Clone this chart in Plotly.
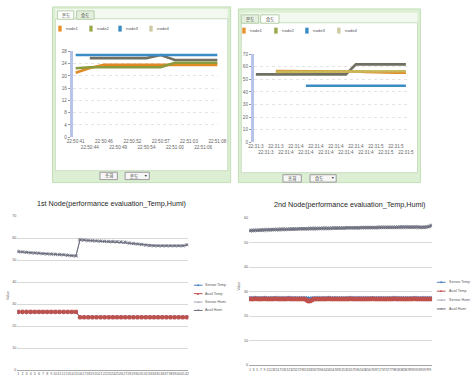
import plotly.graph_objects as go

W, H = 473, 382

# ---------------- data ----------------
node_names = ["node1", "node2", "node3", "node4"]
node_colors = ["#e8902a", "#9aa84a", "#3a8cc4", "#cfcaa4"]
node_line_colors = ["#e08a26", "#8c9a3e", "#3a8cc4", "#6f6f62"]

tab_labels = ["온도", "습도"]
button_label = "조회"

tl_times = ["22:50:41", "22:50:44", "22:50:46", "22:50:49", "22:50:52", "22:50:54",
            "22:50:57", "22:51:00", "22:51:03", "22:51:06", "22:51:08"]
tl_node1 = [21.0, 22.6, 23.6, 23.6, 23.6, 23.6, 23.6, 23.6, 23.6, 23.6, 23.6]
tl_node2 = [22.5, 22.8, 22.8, 22.8, 22.8, 22.8, 22.8, 24.3, 24.3, 24.3, 24.3]
tl_node3 = [26.8, 26.8, 26.8, 26.8, 26.8, 26.8, 26.8, 26.8, 26.8, 26.8, 26.8]
tl_node4 = [None, 25.8, 25.8, 25.8, 25.8, 25.8, 26.8, 25.2, 25.2, 25.2, 25.2]
tl_yticks = [0, 4, 8, 12, 16, 20, 24, 28]

tr_times = ["22:31:30", "22:31:33", "22:31:36", "22:31:40", "22:31:42", "22:31:43",
            "22:31:44", "22:31:45", "22:31:46", "22:31:47", "22:31:48", "22:31:49",
            "22:31:51", "22:31:53", "22:31:55", "22:31:57"]
tr_node1 = [None, None, 56.6, 56.6, 56.3, 56.3, 56.3, 56.3, 56.3, 56.3, 56.3, 56.0, 55.6, 55.4, 55.4, 55.4]
tr_node2 = [None, None, 56.0, 56.0, 56.0, 56.0, 56.0, 56.0, 56.0, 56.0, 56.2, 56.4, 56.4, 56.5, 56.5, 56.5]
tr_node3 = [None, None, None, None, None, 45.0, 45.0, 45.0, 45.0, 45.0, 45.0, 45.0, 45.0, 45.0, 45.0, 45.0]
tr_node4 = [54.0, 54.0, 54.0, 54.0, 54.0, 54.0, 54.0, 54.0, 54.0, 54.0, 62.0, 62.0, 62.0, 62.0, 62.0, 62.0]
tr_yticks = [0, 10, 20, 30, 40, 50, 60, 70]

series_names = ["Sensor Temp", "Avail Temp", "Sensor Humi", "Avail Humi"]
series_colors = ["#4f81bd", "#c0504d", "#a3a9b4", "#6c6c7c"]
series_symbols = ["diamond", "square", "triangle-up", "x-thin-open"]

bl_title = "1st Node(performance evaluation_Temp,Humi)"
bl_labels = [str(i) for i in range(1, 43)]
bl_sensor_temp = [26.4, 26.4, 26.4, 26.4, 26.4, 26.4, 26.4, 26.4, 26.4, 26.4, 26.4, 26.4, 26.4, 26.4, 26.4,
                  24.1, 24.1, 24.1, 24.1, 24.1, 24.1, 24.1, 24.1, 24.1, 24.1, 24.1, 24.1, 24.1, 24.1, 24.1,
                  24.1, 24.1, 24.1, 24.1, 24.1, 24.1, 24.1, 24.1, 24.1, 24.1, 24.1, 24.1]
bl_avail_temp = [26.5, 26.5, 26.5, 26.5, 26.5, 26.5, 26.5, 26.5, 26.5, 26.5, 26.5, 26.5, 26.5, 26.5, 26.5,
                 24.0, 24.0, 24.0, 24.0, 24.0, 24.0, 24.0, 24.0, 24.0, 24.0, 24.0, 24.0, 24.0, 24.0, 24.0,
                 24.0, 24.0, 24.0, 24.0, 24.0, 24.0, 24.0, 24.0, 24.0, 24.0, 24.0, 24.0]
bl_sensor_humi = [54.0, 53.8, 53.6, 53.4, 53.3, 53.2, 53.0, 52.9, 52.8, 52.7, 52.6, 52.5, 52.3, 52.1, 52.0,
                  59.4, 59.2, 59.0, 58.9, 58.8, 58.7, 58.6, 58.5, 58.5, 58.4, 58.3, 58.2, 57.8, 57.6, 57.4,
                  57.2, 56.9, 56.7, 56.6, 56.6, 56.6, 56.6, 56.6, 56.6, 56.6, 56.6, 57.0]
bl_avail_humi = [53.8, 53.7, 53.5, 53.3, 53.2, 53.1, 52.9, 52.8, 52.7, 52.6, 52.5, 52.4, 52.2, 52.0, 51.9,
                 59.2, 59.1, 58.9, 58.8, 58.7, 58.6, 58.5, 58.4, 58.4, 58.3, 58.2, 58.1, 57.7, 57.5, 57.3,
                 57.1, 56.8, 56.6, 56.5, 56.5, 56.5, 56.5, 56.5, 56.5, 56.5, 56.5, 56.9]
bl_yticks = [0, 10, 20, 30, 40, 50, 60, 70]

br_title = "2nd Node(performance evaluation_Temp,Humi)"
br_labels = [str(i) for i in range(1, 101)]
br_sensor_temp = [27.2, 27.2, 27.2, 27.3, 27.2, 27.2, 27.2, 27.2, 27.3, 27.2,
                  27.2, 27.2, 27.2, 27.2, 27.3, 27.2, 27.2, 27.2, 27.2, 27.2,
                  27.2, 27.3, 27.2, 27.2, 27.2, 27.2, 27.2, 27.2, 27.2, 27.2,
                  27.2, 27.2, 27.1, 27.1, 27.2, 27.2, 27.2, 27.2, 27.2, 27.2,
                  27.2, 27.2, 27.2, 27.3, 27.2, 27.2, 27.2, 27.2, 27.2, 27.2,
                  27.2, 27.2, 27.2, 27.2, 27.2, 27.3, 27.2, 27.2, 27.2, 27.2,
                  27.2, 27.2, 27.2, 27.2, 27.2, 27.2, 27.2, 27.3, 27.2, 27.2,
                  27.2, 27.2, 27.2, 27.2, 27.2, 27.2, 27.2, 27.2, 27.2, 27.3,
                  27.2, 27.2, 27.2, 27.2, 27.2, 27.2, 27.2, 27.2, 27.2, 27.2,
                  27.3, 27.2, 27.2, 27.2, 27.2, 27.2, 27.2, 27.2, 27.2, 27.2]
br_avail_temp = [27.0, 27.0, 27.0, 27.1, 27.0, 27.0, 27.0, 27.0, 27.1, 27.0,
                 27.0, 27.0, 27.0, 27.0, 27.1, 27.0, 27.0, 27.0, 27.0, 27.0,
                 27.0, 27.1, 27.0, 27.0, 27.0, 27.0, 27.0, 27.0, 27.0, 27.0,
                 27.0, 26.5, 26.1, 26.2, 26.6, 27.0, 27.0, 27.0, 27.0, 27.0,
                 27.0, 27.0, 27.0, 27.1, 27.0, 27.0, 27.0, 27.0, 27.0, 27.0,
                 27.0, 27.0, 27.0, 27.0, 27.0, 27.1, 27.0, 27.0, 27.0, 27.0,
                 27.0, 27.0, 27.0, 27.0, 27.0, 27.0, 27.0, 27.1, 27.0, 27.0,
                 27.0, 27.0, 27.0, 27.0, 27.0, 27.0, 27.0, 27.0, 27.0, 27.1,
                 27.0, 27.0, 27.0, 27.0, 27.0, 27.0, 27.0, 27.0, 27.0, 27.0,
                 27.1, 27.0, 27.0, 27.0, 27.0, 27.0, 27.0, 27.0, 27.0, 27.0]
br_sensor_humi = [55.0, 55.0, 55.1, 55.1, 55.1, 55.2, 55.2, 55.2, 55.3, 55.3,
                  55.3, 55.3, 55.4, 55.4, 55.4, 55.4, 55.5, 55.5, 55.5, 55.5,
                  55.5, 55.6, 55.6, 55.6, 55.6, 55.6, 55.7, 55.7, 55.7, 55.7,
                  55.7, 55.7, 55.8, 55.8, 55.8, 55.8, 55.8, 55.8, 55.9, 55.9,
                  55.9, 55.9, 55.9, 55.9, 55.9, 56.0, 56.0, 56.0, 56.0, 56.0,
                  56.0, 56.0, 56.0, 56.1, 56.1, 56.1, 56.1, 56.1, 56.1, 56.1,
                  56.1, 56.2, 56.2, 56.2, 56.2, 56.2, 56.2, 56.2, 56.2, 56.2,
                  56.3, 56.3, 56.3, 56.3, 56.3, 56.3, 56.3, 56.3, 56.3, 56.3,
                  56.3, 56.4, 56.4, 56.4, 56.4, 56.4, 56.4, 56.4, 56.4, 56.4,
                  56.4, 56.4, 56.4, 56.3, 56.3, 56.3, 56.4, 56.5, 56.7, 57.0]
br_avail_humi = [54.8, 54.9, 54.9, 55.0, 55.0, 55.0, 55.1, 55.1, 55.1, 55.2,
                 55.2, 55.2, 55.2, 55.3, 55.3, 55.3, 55.3, 55.4, 55.4, 55.4,
                 55.4, 55.4, 55.5, 55.5, 55.5, 55.5, 55.5, 55.6, 55.6, 55.6,
                 55.6, 55.6, 55.6, 55.7, 55.7, 55.7, 55.7, 55.7, 55.7, 55.8,
                 55.8, 55.8, 55.8, 55.8, 55.8, 55.9, 55.9, 55.9, 55.9, 55.9,
                 55.9, 55.9, 56.0, 56.0, 56.0, 56.0, 56.0, 56.0, 56.0, 56.0,
                 56.0, 56.1, 56.1, 56.1, 56.1, 56.1, 56.1, 56.1, 56.1, 56.1,
                 56.1, 56.2, 56.2, 56.2, 56.2, 56.2, 56.2, 56.2, 56.2, 56.2,
                 56.2, 56.2, 56.3, 56.3, 56.3, 56.3, 56.3, 56.3, 56.3, 56.3,
                 56.3, 56.3, 56.3, 56.2, 56.2, 56.2, 56.3, 56.4, 56.6, 56.9]
br_yticks = [0, 10, 20, 30, 40, 50, 60]

# ---------------- helpers ----------------
FONT = "Liberation Sans, Arial, sans-serif"
KFONT = "Noto Sans CJK KR, sans-serif"


def px(x):
    return x / W


def py(y):
    return 1 - y / H


shapes = []
annotations = []


def rect(x0, y0, x1, y1, fill, line=None, lw=1):
    shapes.append(dict(type="rect", xref="paper", yref="paper", layer="below",
                       x0=px(x0), x1=px(x1), y0=py(y1), y1=py(y0),
                       fillcolor=fill, line=dict(color=line or fill, width=lw if line else 0)))


def seg(x0, y0, x1, y1, color, lw=1):
    shapes.append(dict(type="line", xref="paper", yref="paper", layer="above",
                       x0=px(x0), x1=px(x1), y0=py(y0), y1=py(y1),
                       line=dict(color=color, width=lw)))


def text(x, y, s, size=5, color="#444", xanchor="left", family=FONT, angle=0):
    annotations.append(dict(xref="paper", yref="paper", x=px(x), y=py(y), text=s,
                            showarrow=False, font=dict(size=size, color=color, family=family),
                            xanchor=xanchor, yanchor="middle", textangle=angle, borderpad=0))


fig = go.Figure()

# ---------------- top panels decoration ----------------
def top_panel(x0, y0, x1, y1, inner_top, inner_bottom, tab_y0, tab_x, active, btn_x, btn_y0):
    rect(x0, y0, x1, y1, "#dcefd4", "#c2dfb6")
    rect(x0 + 3, tab_y0 - 2, x1 - 3, inner_top, "#f3f9f0")
    rect(x0 + 3, inner_top, x1 - 3, inner_bottom, "white", "#c9dec0")
    for i, lab in enumerate(tab_labels):
        tx0, tx1 = tab_x[i]
        rect(tx0, tab_y0, tx1, inner_top + 0.5, "white" if i == active else "#e4efde", "#b4cfa8")
        text((tx0 + tx1) / 2, (tab_y0 + inner_top) / 2, lab, 4.5, "#333", "center", KFONT)
    (b0, b1), (c0, c1) = btn_x
    rect(b0, btn_y0, b1, btn_y0 + 7.5, "#f6f6f6", "#9a9a9a")
    text((b0 + b1) / 2, btn_y0 + 3.8, button_label, 4.5, "#333", "center", KFONT)
    rect(c0, btn_y0, c1, btn_y0 + 7.5, "#f6f6f6", "#9a9a9a")
    text(c0 + 4, btn_y0 + 3.8, tab_labels[active], 4.5, "#333", "left", KFONT)
    text(c1 - 4, btn_y0 + 3.8, "▼", 3.5, "#333", "center")


top_panel(48, 5, 232, 183, 17, 171, 9, [(53, 70), (73, 91)], 0, [(97, 115), (123, 148)], 172.5)
top_panel(240, 7, 428, 183, 21, 173, 13, [(243, 261), (263, 282)], 1, [(286, 305), (314, 341)], 175)

# top legends
for i, name in enumerate(node_names):
    lx = [54, 86, 116, 148][i]
    rect(lx, 24, lx + 3.5, 30, node_colors[i])
    text(lx + 7, 27, name, 4.3, "#555")
    lx2 = [244, 277, 309, 342][i]
    rect(lx2, 26, lx2 + 3.5, 32, node_colors[i])
    text(lx2 + 7, 29, name, 4.3, "#555")

# ---------------- traces ----------------
tl_series = [tl_node1, tl_node2, tl_node3, tl_node4]
tr_series = [tr_node1, tr_node2, tr_node3, tr_node4]
draw_order = [3, 2, 0, 1]
for k in draw_order:
    fig.add_trace(go.Scatter(x=tl_times, y=tl_series[k], mode="lines", name=node_names[k],
                             line=dict(color=node_line_colors[k], width=2.6),
                             xaxis="x", yaxis="y", showlegend=False))
for k in [3, 2, 0, 1]:
    fig.add_trace(go.Scatter(x=tr_times, y=tr_series[k], mode="lines", name=node_names[k],
                             line=dict(color=node_line_colors[k] if k != 1 else "#c9b85a", width=2.6),
                             xaxis="x2", yaxis="y2", showlegend=False))

bl_series = [bl_sensor_temp, bl_avail_temp, bl_sensor_humi, bl_avail_humi]
br_series = [br_sensor_temp, br_avail_temp, br_sensor_humi, br_avail_humi]
for k in range(4):
    fig.add_trace(go.Scatter(x=bl_labels, y=bl_series[k], mode="lines+markers", name=series_names[k],
                             line=dict(color=series_colors[k], width=1),
                             marker=dict(symbol=series_symbols[k], size=3.2, color=series_colors[k],
                                         line=dict(color=series_colors[k], width=0.8)),
                             xaxis="x3", yaxis="y3", showlegend=False))
for k in range(4):
    fig.add_trace(go.Scatter(x=br_labels, y=br_series[k], mode="lines+markers", name=series_names[k],
                             line=dict(color=series_colors[k], width=1),
                             marker=dict(symbol=series_symbols[k], size=3.4, color=series_colors[k],
                                         line=dict(color=series_colors[k], width=0.8)),
                             xaxis="x4", yaxis="y4", showlegend=False))

# bottom legends (drawn manually, compact like Excel)
legend_marks = ["◆", "■", "▲", "✕"]
for i, name in enumerate(series_names):
    ly = [287, 295.5, 304, 312.5][i]
    seg(194, ly, 203, ly, series_colors[i], 1)
    text(198.5, ly, legend_marks[i], 3.2, series_colors[i], "center")
    text(205, ly, name, 3.6, "#595959")
    ly2 = [284, 293, 302, 311][i]
    seg(445, ly2, 454, ly2, series_colors[i], 1)
    text(449.5, ly2, legend_marks[i], 3.2, series_colors[i], "center")
    text(456, ly2, name, 3.6, "#595959")

# titles
text(109, 204, bl_title, 7.2, "#262626", "center", "Liberation Sans Narrow, Liberation Sans, Arial")
text(355, 205, br_title, 7.2, "#262626", "center", "Liberation Sans Narrow, Liberation Sans, Arial")
text(2, 297, "Value", 3.6, "#595959", "center", angle=-90)
text(241, 288, "Value", 3.6, "#595959", "center", angle=-90)


def alt_rows(labels, shown):
    return [t if i % 2 == 0 else "<br>" + t for i, t in enumerate(shown)]


top_tick_font = dict(size=4.6, color="#666", family=FONT)
top_y_common = dict(showgrid=True, gridcolor="#e4e4e4", griddash="dot", gridwidth=1,
                    zeroline=False, showline=True, linecolor="#b7c3e8", linewidth=3,
                    ticks="outside", ticklen=2, tickcolor="#999", tickfont=top_tick_font)
top_x_common = dict(type="category", showgrid=False, zeroline=False, showline=False,
                    ticks="", tickfont=top_tick_font, tickangle=0, tickmode="array")

bot_tick_font = dict(size=3.6, color="#595959", family=FONT)
bot_y_common = dict(showgrid=True, gridcolor="#d9d9d9", gridwidth=1, zeroline=False,
                    showline=False, ticks="", tickfont=bot_tick_font)
bot_x_common = dict(type="category", showgrid=False, zeroline=False, showline=True,
                    linecolor="#a6a6a6", linewidth=1, ticks="", tickfont=bot_tick_font,
                    tickangle=0, tickmode="array")

fig.update_layout(
    width=W, height=H, margin=dict(l=0, r=0, t=0, b=0),
    paper_bgcolor="white", plot_bgcolor="rgba(0,0,0,0)",
    font=dict(family=FONT),
    showlegend=False,
    shapes=shapes, annotations=annotations,
    xaxis=dict(top_x_common, domain=[px(69), px(219)], range=[-0.2, 10.05], anchor="y",
               categoryarray=tl_times, tickvals=tl_times,
               ticktext=alt_rows(tl_times, tl_times)),
    yaxis=dict(top_y_common, domain=[py(137), py(50)], range=[0, 28], anchor="x",
               tickvals=tl_yticks),
    xaxis2=dict(top_x_common, domain=[px(256), px(414)], range=[-0.2, 15.1], anchor="y2",
                categoryarray=tr_times, tickvals=tr_times,
                ticktext=alt_rows(tr_times, [t[:7] for t in tr_times])),
    yaxis2=dict(top_y_common, domain=[py(142), py(53)], range=[0, 70], anchor="x2",
                tickvals=tr_yticks),
    xaxis3=dict(bot_x_common, domain=[px(11.7), px(188.3)], range=[-0.25, 41.35], anchor="y3",
                categoryarray=bl_labels, tickvals=bl_labels, ticktext=bl_labels),
    yaxis3=dict(bot_y_common, domain=[py(373), py(217)], range=[0, 70], anchor="x3",
                tickvals=bl_yticks),
    xaxis4=dict(bot_x_common, domain=[px(251), px(440)], range=[-0.5, 99.5], anchor="y4",
                categoryarray=br_labels, tickvals=br_labels[::2], ticktext=br_labels[::2]),
    yaxis4=dict(bot_y_common, domain=[py(368), py(219)], range=[0, 60], anchor="x4",
                tickvals=br_yticks),
)

fig.write_html("out.html")
